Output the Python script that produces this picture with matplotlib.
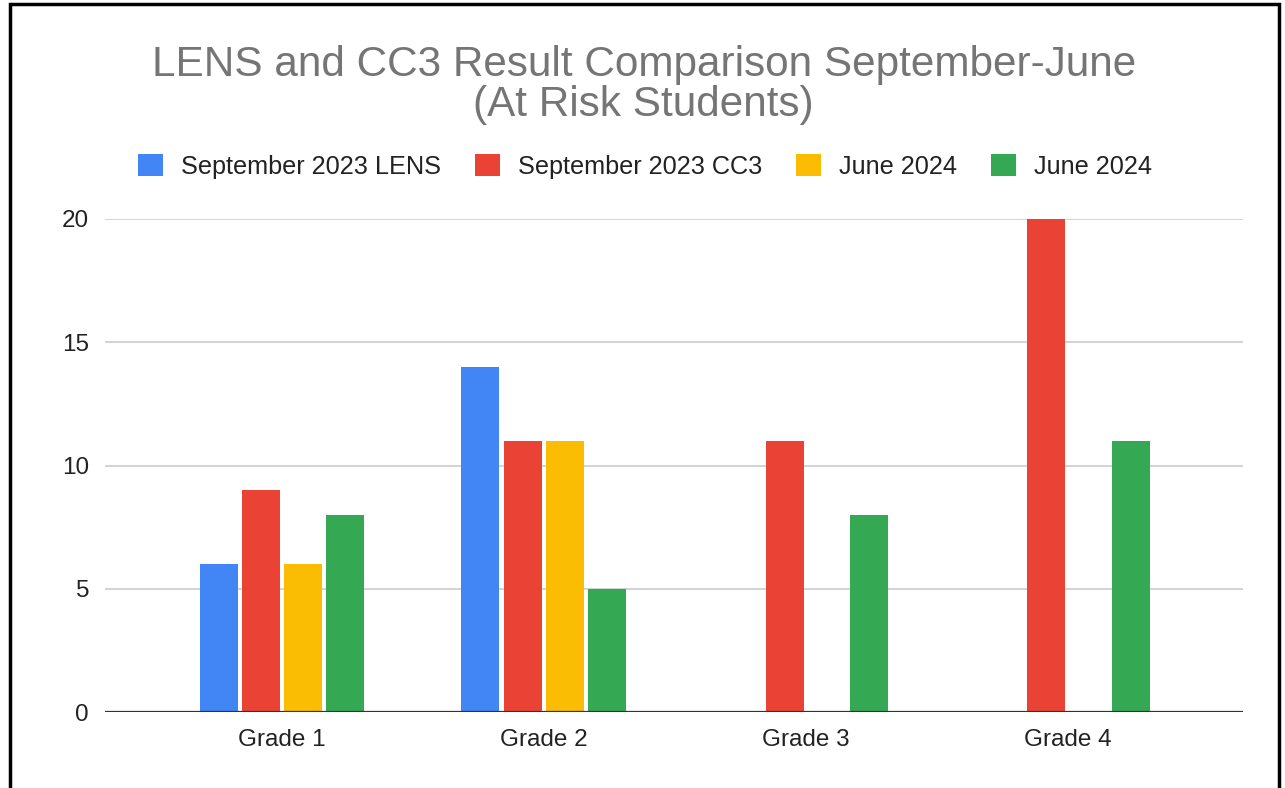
import numpy as np
import matplotlib
matplotlib.use("Agg")
import matplotlib.pyplot as plt
from matplotlib.patches import Rectangle

plt.rcParams['font.family'] = ['Liberation Sans', 'DejaVu Sans']

grades = ['Grade 1', 'Grade 2', 'Grade 3', 'Grade 4']
series_names = ['September 2023 LENS', 'September 2023 CC3', 'June 2024', 'June 2024']
sep_lens = [6, 14, 0, 0]
sep_cc3 = [9, 11, 11, 20]
june_a = [6, 11, 0, 0]
june_b = [8, 5, 8, 11]
colors = ['#4285F4', '#EA4335', '#FBBC04', '#34A853']

fig = plt.figure(figsize=(12.85, 7.88), dpi=100)
ax = fig.add_axes([0.0817, 0.0964, 0.8856, 0.6257])

x = np.arange(len(grades))
slot = 0.1615
width = 0.145
for i, (vals, name, c) in enumerate(zip([sep_lens, sep_cc3, june_a, june_b], series_names, colors)):
    ax.bar(x + (i - 1.5) * slot, vals, width, color=c, label=name, zorder=3)

ax.set_xlim(-0.676, 3.67)
ax.set_ylim(0, 20)
ax.set_yticks([0, 5, 10, 15, 20])
ax.grid(axis='y', color='#cccccc', linewidth=1.2, zorder=0)
ax.axhline(0, color='#333333', linewidth=1.6, zorder=4)
for s in ax.spines.values():
    s.set_visible(False)
ax.set_xticks(x)
ax.set_xticklabels(grades)
ax.tick_params(length=0, labelsize=17.5, colors='#222222')
ax.tick_params(axis='y', pad=11.5)
ax.tick_params(axis='x', pad=12)

fig.text(0.501, 0.892, 'LENS and CC3 Result Comparison September-June\n(At Risk Students)',
         ha='center', va='center', fontsize=30.4, color='#757575', linespacing=1.02)

leg = fig.legend(loc='center', bbox_to_anchor=(0.502, 0.789), ncol=4, frameon=False,
                 fontsize=18.2, handlelength=1.0, handleheight=1.0, handletextpad=0.72,
                 columnspacing=1.32)
for t in leg.get_texts():
    t.set_color('#222222')

# outer border
fig.patches.append(Rectangle((0.0078, -0.01), 0.9875, 1.005, transform=fig.transFigure,
                             fill=False, edgecolor='black', linewidth=2.5))

fig.savefig('out.png', dpi=100)
